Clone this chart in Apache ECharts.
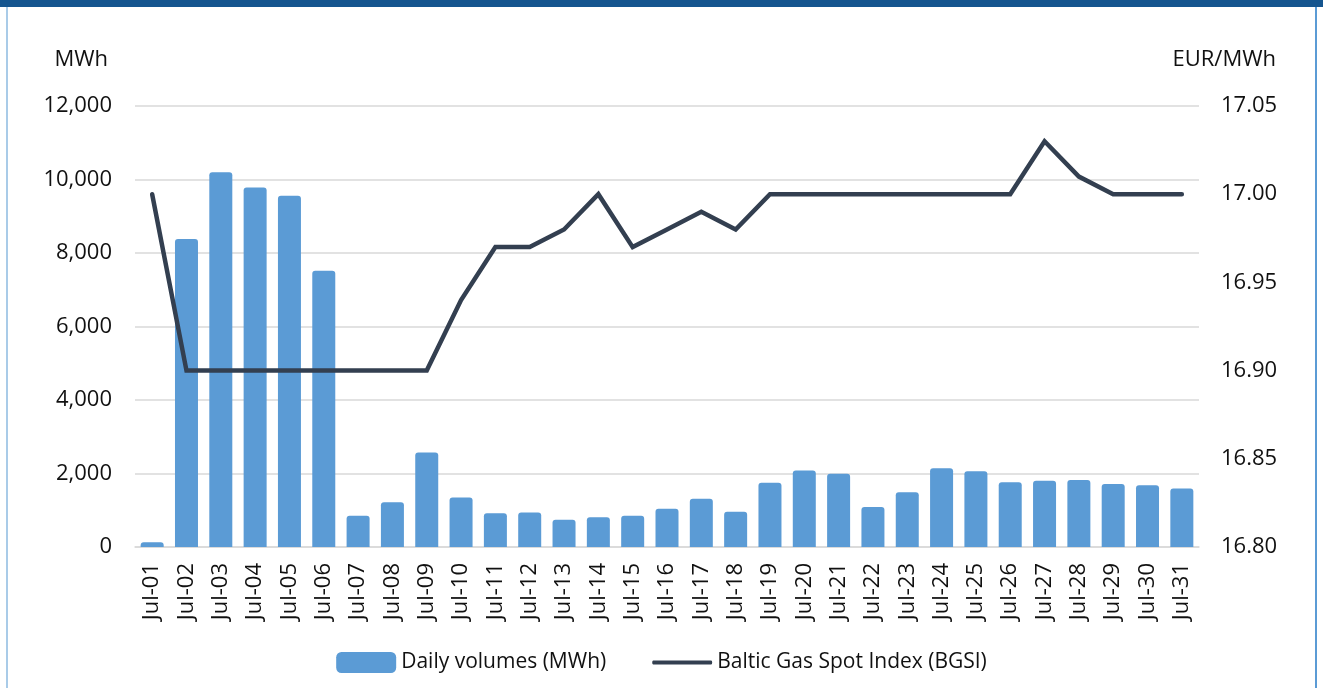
<!DOCTYPE html>
<html>
<head>
<meta charset="utf-8">
<script src="https://cdn.jsdelivr.net/npm/echarts@6/dist/echarts.min.js"></script>
<style>
    html, body { margin: 0; padding: 0; background: #fff; }
    #chart { width: 1323px; height: 688px; }
</style>
</head>
<body>
<div id="chart"></div>
<script>
var days = ['Jul-01', 'Jul-02', 'Jul-03', 'Jul-04', 'Jul-05', 'Jul-06', 'Jul-07', 'Jul-08', 'Jul-09', 'Jul-10',
    'Jul-11', 'Jul-12', 'Jul-13', 'Jul-14', 'Jul-15', 'Jul-16', 'Jul-17', 'Jul-18', 'Jul-19', 'Jul-20',
    'Jul-21', 'Jul-22', 'Jul-23', 'Jul-24', 'Jul-25', 'Jul-26', 'Jul-27', 'Jul-28', 'Jul-29', 'Jul-30', 'Jul-31'];
var volumes = [130, 8380, 10200, 9780, 9560, 7520, 850, 1220, 2570, 1350,
    920, 940, 740, 810, 850, 1040, 1310, 960, 1750, 2080,
    1995, 1090, 1490, 2140, 2060, 1760, 1805, 1820, 1715, 1680, 1590];
var bgsi = [17.00, 16.90, 16.90, 16.90, 16.90, 16.90, 16.90, 16.90, 16.90, 16.94,
    16.97, 16.97, 16.98, 17.00, 16.97, 16.98, 16.99, 16.98, 17.00, 17.00,
    17.00, 17.00, 17.00, 17.00, 17.00, 17.00, 17.03, 17.01, 17.00, 17.00, 17.00];
var leftTicks = { min: 0, max: 12000, step: 2000 };
var rightTicks = { min: 16.80, max: 17.05, step: 0.05 };

var font = "'Open Sans', sans-serif";
var textColor = '#111';
var labelSize = 22;

// thin bar with invisible corner dots so the legend keeps a 58x20 box
var lineIcon = 'path://M0,0L0.01,0L0.01,0.01Z M1,8L57,8Q58,8 58,10Q58,12 57,12L1,12Q0,12 0,10Q0,8 1,8Z M57.99,19.99L58,19.99L58,20Z';

var myChart = echarts.init(document.getElementById('chart'));

var option = {
    animation: false,
    textStyle: { fontFamily: font },
    grid: { left: 135, right: 124, top: 106, bottom: 141 },
    graphic: [
        { type: 'rect', shape: { x: 0, y: 0, width: 1323, height: 7 }, style: { fill: '#15558f' } },
        { type: 'rect', shape: { x: 6, y: 7, width: 2, height: 681 }, style: { fill: '#a9cbe8' } },
        { type: 'rect', shape: { x: 1315, y: 7, width: 2, height: 681 }, style: { fill: '#5b9bd5' } },
        {
            type: 'text', x: 108, y: 60,
            style: { text: 'MWh', fill: textColor, font: labelSize + 'px ' + font, textAlign: 'right', textVerticalAlign: 'middle' }
        },
        {
            type: 'text', x: 1276, y: 60,
            style: { text: 'EUR/MWh', fill: textColor, font: labelSize + 'px ' + font, textAlign: 'right', textVerticalAlign: 'middle' }
        }
    ],
    legend: {
        top: 647,
        left: 'center',
        itemWidth: 60,
        itemHeight: 21,
        itemGap: 46,
        textStyle: { fontSize: 21, color: textColor, fontFamily: font },
        data: [
            { name: 'Daily volumes (MWh)', icon: 'roundRect' },
            { name: 'Baltic Gas Spot Index (BGSI)', icon: lineIcon, itemStyle: { color: '#333f50' } }
        ]
    },
    xAxis: {
        type: 'category',
        data: days,
        axisTick: { show: false },
        axisLine: { lineStyle: { color: '#d9d9d9', width: 1.5 } },
        axisLabel: { rotate: 90, margin: 16, fontSize: labelSize, color: textColor, fontFamily: font, interval: 0 }
    },
    yAxis: [
        {
            type: 'value',
            min: leftTicks.min,
            max: leftTicks.max,
            interval: leftTicks.step,
            axisLine: { show: false },
            axisTick: { show: false },
            splitLine: { lineStyle: { color: '#d9d9d9', width: 1.5 } },
            axisLabel: {
                margin: 23, fontSize: labelSize, color: textColor, fontFamily: font,
                formatter: function (v) { return v.toLocaleString('en-US'); }
            }
        },
        {
            type: 'value',
            min: rightTicks.min,
            max: rightTicks.max,
            interval: rightTicks.step,
            axisLine: { show: false },
            axisTick: { show: false },
            splitLine: { show: false },
            axisLabel: {
                margin: 22, fontSize: labelSize, color: textColor, fontFamily: font,
                formatter: function (v) { return v.toFixed(2); }
            }
        }
    ],
    series: [
        {
            name: 'Daily volumes (MWh)',
            type: 'bar',
            data: volumes,
            barWidth: 23,
            itemStyle: { color: '#5b9bd5', borderRadius: [3, 3, 0, 0] }
        },
        {
            name: 'Baltic Gas Spot Index (BGSI)',
            type: 'line',
            yAxisIndex: 1,
            data: bgsi,
            symbol: 'none',
            lineStyle: { color: '#333f50', width: 4.5, cap: 'round', join: 'miter' },
            itemStyle: { color: '#333f50' }
        }
    ]
};

// draw
myChart.setOption(option);
</script>
</body>
</html>
